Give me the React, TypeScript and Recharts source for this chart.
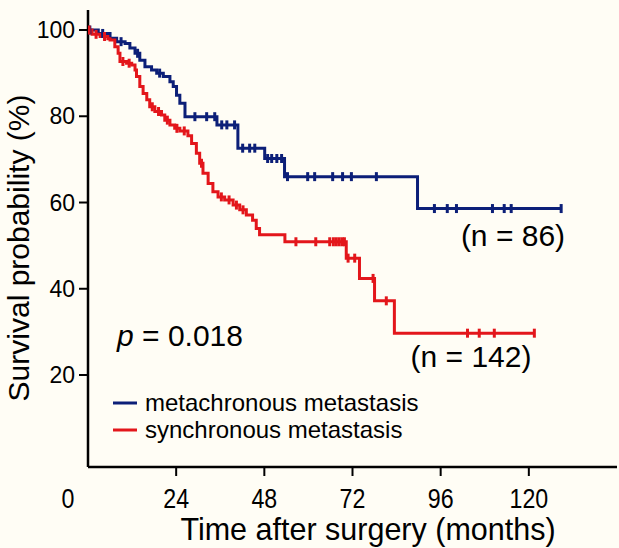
import { ComposedChart, Line, XAxis, YAxis, Customized } from "recharts";

const FONT = "'Liberation Sans', Arial, Helvetica, sans-serif";
const BLUE = "#0c1f78";
const RED = "#e3161b";
const BG = "#fffdf5";

// metachronous metastasis (n = 86): event times (months) and survival (%)
const blueTimes = [2.8, 6.0, 7.8, 10.1, 11.4, 12.8, 14.1, 15.5, 17.3, 18.7, 20.5, 22.3, 23.2, 24.1, 25.0, 26.4, 35.1, 40.8, 48.1, 53.5, 89.7];
const blueSurv = [99.2, 98.1, 97.3, 96.9, 95.8, 94.6, 93.0, 91.5, 90.7, 90.0, 89.2, 88.0, 86.9, 84.9, 83.0, 79.9, 78.0, 72.6, 70.2, 66.0, 58.6];
const blueCensor = [0.5, 4, 9, 13.5, 19.5, 29.1, 32.3, 34.5, 36.4, 37.8, 39.9, 42.1, 44.0, 45.4, 48.9, 50.0, 51.4, 52.7, 54.3, 59.8, 61.7, 66.6, 69.3, 71.7, 78.5, 94.3, 97.8, 100.3, 110.1, 113.3, 115.2, 128.8];

// synchronous metastasis (n = 142)
const redTimes = [1.1, 3.3, 5.4, 6.0, 7.3, 8.2, 8.7, 10.5, 11.9, 12.8, 13.2, 14.1, 15.0, 16.0, 16.8, 18.2, 20.0, 20.9, 22.3, 23.6, 25.0, 27.2, 28.2, 29.5, 30.4, 31.3, 32.7, 34.0, 35.4, 37.2, 39.5, 41.3, 43.1, 44.8, 45.8, 46.7, 53.6, 70.3, 73.9, 78.0, 83.4];
const redSurv = [99.0, 98.5, 98.0, 97.7, 96.1, 94.6, 92.7, 92.3, 91.9, 90.7, 89.2, 86.9, 85.3, 83.8, 82.2, 81.1, 80.3, 79.1, 78.0, 77.2, 76.6, 75.5, 73.7, 71.4, 69.1, 66.8, 64.4, 62.5, 61.3, 60.6, 59.4, 58.3, 57.1, 55.9, 54.0, 52.5, 50.9, 47.1, 42.4, 37.2, 29.7];
const redCensor = [0.3, 2.2, 4.5, 9.5, 11.2, 17.5, 19.2, 21.6, 24.2, 26.2, 30.9, 36.3, 38.4, 40.4, 42.2, 56.6, 62.0, 65.8, 66.8, 67.6, 68.4, 69.2, 69.8, 70.8, 72.6, 77.6, 81.2, 103.3, 106.5, 110.6, 121.5];

const xTicks = [0, 24, 48, 72, 96, 120];
const yTicks = [20, 40, 60, 80, 100];

type Pt = { t: number; s: number; censored?: boolean };

// merge events and censored cases into one step series
function buildCurve(times: number[], surv: number[], censor: number[]): Pt[] {
  const pts: Pt[] = [{ t: 0, s: 100 }];
  times.forEach((t, i) => pts.push({ t, s: surv[i] }));
  censor.forEach((t) => {
    let s = 100;
    times.forEach((et, i) => {
      if (et <= t) s = surv[i];
    });
    pts.push({ t, s, censored: true });
  });
  return pts.sort((a, b) => a.t - b.t);
}

const blueData = buildCurve(blueTimes, blueSurv, blueCensor);
const redData = buildCurve(redTimes, redSurv, redCensor);

const censorDot = (color: string) => (props: any) => {
  const { cx, cy, payload, index } = props;
  if (!payload || !payload.censored) return <g key={`d${index}`} />;
  return (
    <line
      key={`d${index}`}
      x1={cx}
      x2={cx}
      y1={cy - 4.5}
      y2={cy + 4.5}
      stroke={color}
      strokeWidth={3}
    />
  );
};

const XTick = (props: any) => {
  const { x, y, payload } = props;
  const v = payload.value;
  const tx = v === 0 ? x - 20 : x;
  return (
    <g>
      {v !== 0 && <line x1={x} x2={x} y1={y} y2={y + 9} stroke="#000" strokeWidth={2} />}
      <text
        transform={`translate(${tx},${y + 41}) scale(0.86,1)`}
        textAnchor="middle"
        fontSize={27}
        fontFamily={FONT}
        fill="#000"
      >
        {v}
      </text>
    </g>
  );
};

const Annotations = () => (
  <g fontFamily={FONT} fill="#000">
    <text x={18} y={248} fontSize={30} textAnchor="middle" dominantBaseline="central" transform="rotate(-90 18 248)">
      Survival probability (%)
    </text>
    <text x={368} y={540} fontSize={30.5} textAnchor="middle">
      Time after surgery (months)
    </text>
    <text x={117} y={346} fontSize={30}>
      <tspan fontStyle="italic">p</tspan> = 0.018
    </text>
    <text x={513} y={246} fontSize={30} textAnchor="middle">(n = 86)</text>
    <text x={471} y={367} fontSize={30} textAnchor="middle">(n = 142)</text>
    <line x1={113} x2={137} y1={403} y2={403} stroke={BLUE} strokeWidth={3} />
    <text x={145} y={411} fontSize={24}>metachronous metastasis</text>
    <line x1={113} x2={137} y1={430} y2={430} stroke={RED} strokeWidth={3} />
    <text x={145} y={438} fontSize={24}>synchronous metastasis</text>
  </g>
);

export default function App() {
  return (
    <div style={{ background: BG, width: 619, height: 548 }}>
      <style>{`body{margin:0;background:${BG};}`}</style>
      <ComposedChart
        width={619}
        height={548}
        margin={{ top: 10, right: 2, bottom: 0, left: 0 }}
      >
        <XAxis
          type="number"
          dataKey="t"
          domain={[0, 144]}
          ticks={xTicks}
          allowDataOverflow
          height={81}
          axisLine={{ stroke: "#000", strokeWidth: 2.5 }}
          tickLine={false}
          tickSize={0}
          tickMargin={0}
          tick={<XTick />}
          interval={0}
        />
        <YAxis
          type="number"
          dataKey="s"
          domain={[-1.33, 104.64]}
          ticks={yTicks}
          allowDataOverflow
          width={88}
          axisLine={{ stroke: "#000", strokeWidth: 2.5 }}
          tickLine={{ stroke: "#000", strokeWidth: 2 }}
          tickSize={9}
          tickMargin={4}
          tick={{ fill: "#000", fontSize: 23, fontFamily: FONT }}
          interval={0}
        />
        <Line
          data={blueData}
          dataKey="s"
          type="stepAfter"
          stroke={BLUE}
          strokeWidth={3}
          dot={censorDot(BLUE)}
          activeDot={false}
          isAnimationActive={false}
        />
        <Line
          data={redData}
          dataKey="s"
          type="stepAfter"
          stroke={RED}
          strokeWidth={3}
          dot={censorDot(RED)}
          activeDot={false}
          isAnimationActive={false}
        />
        <Customized component={Annotations} />
      </ComposedChart>
    </div>
  );
}
